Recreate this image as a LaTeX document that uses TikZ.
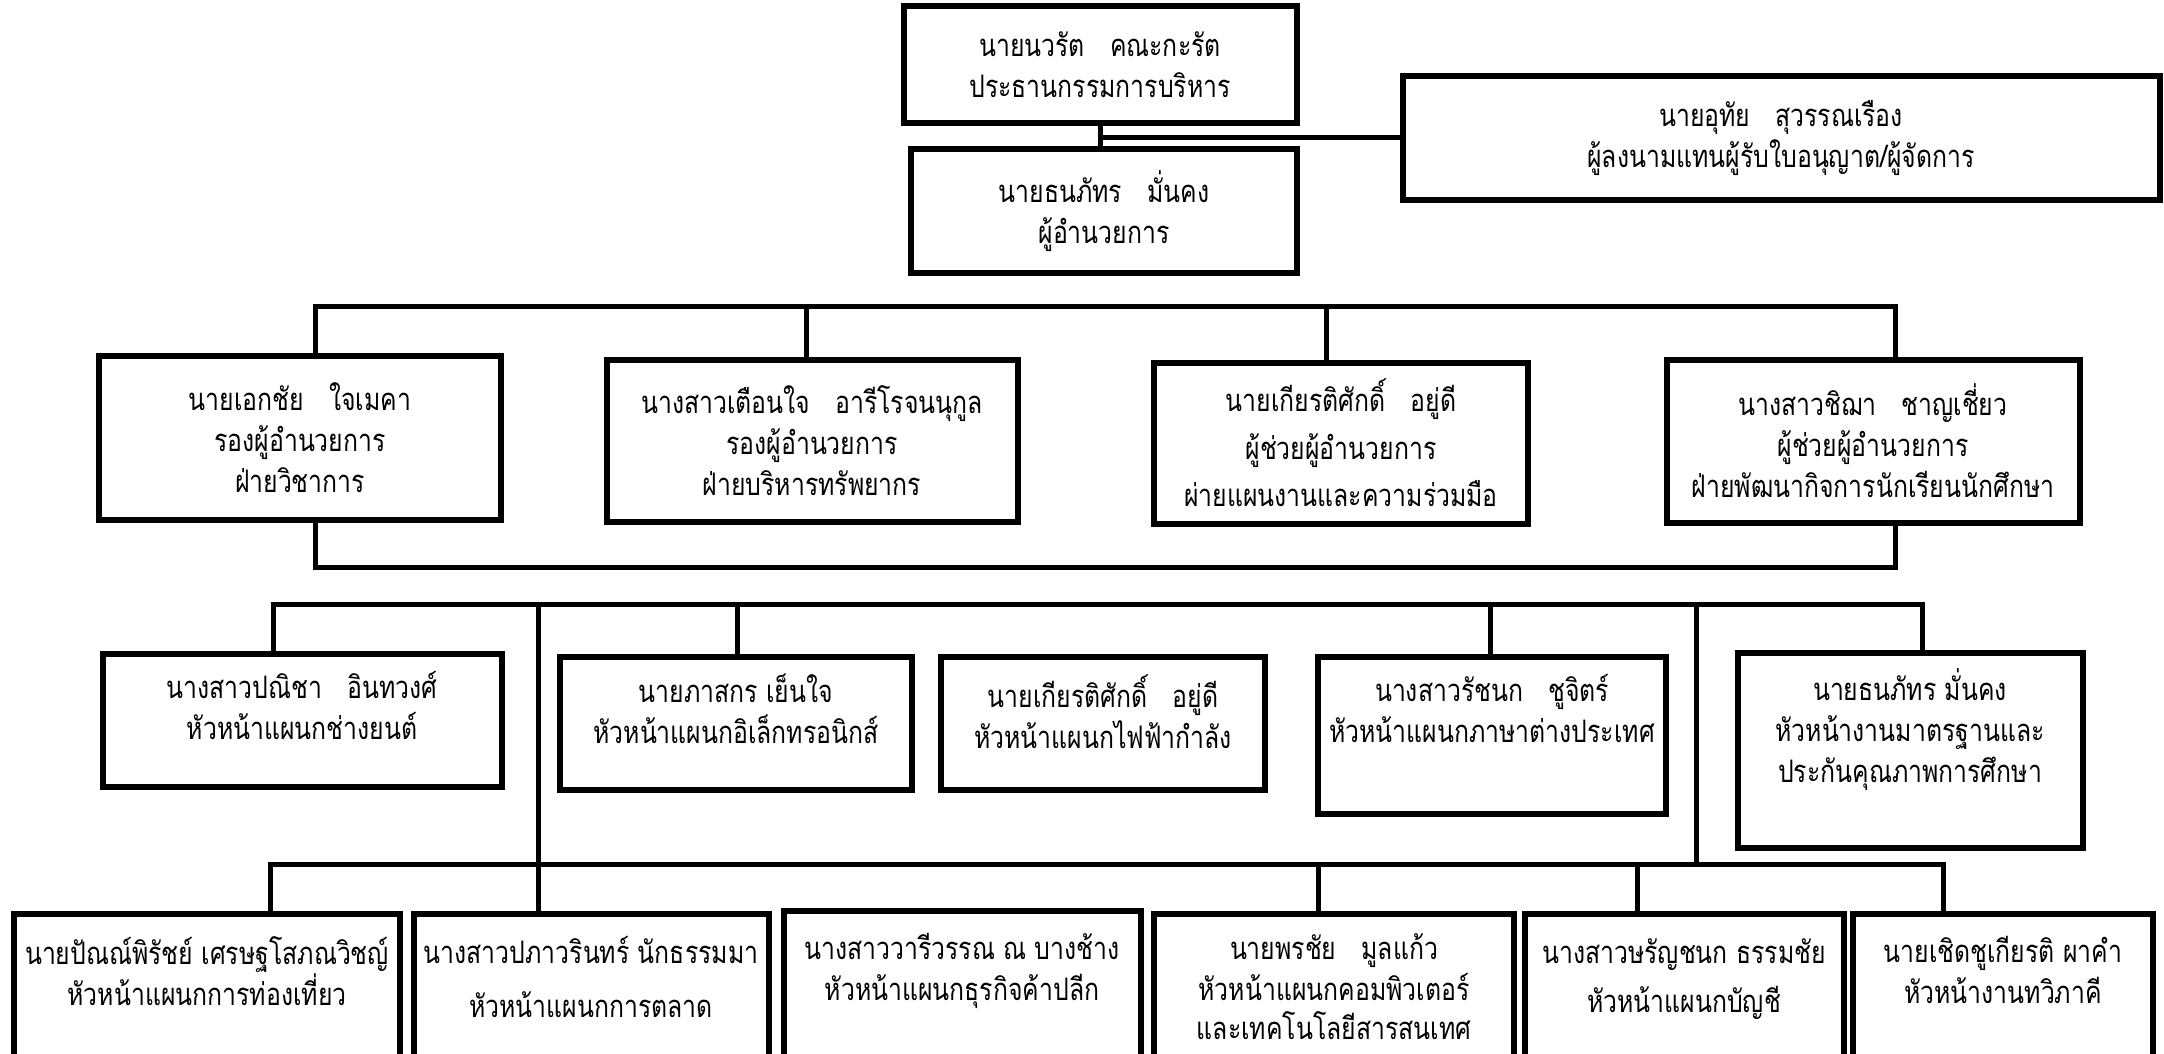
\documentclass[tikz,border=0pt]{standalone}
\usepackage{fontspec}
\setmainfont[Script=Thai,FakeStretch=0.8]{Loma}
\usetikzlibrary{positioning}

\begin{document}
\begin{tikzpicture}[x=1pt,y=-1pt,
    box/.style={draw,line width=6pt,inner sep=0pt,fill=white},
    txt/.style={align=center,inner sep=0pt,font=\fontsize{31}{41}\selectfont},
    link/.style={line width=5pt,line join=miter}]
   \useasboundingbox (0,0) rectangle (2164,1054);
   \clip (0,0) rectangle (2164,1054);

   % top of the chart
   \node[box,txt,minimum width=393,minimum height=117] (chair) at (1100,65)
      {นายนวรัต\ \ \ คณะกะรัต\\ประธานกรรมการบริหาร};
   \node[box,txt,minimum width=386,minimum height=124] (director) at (1104,211)
      {นายธนภัทร\ \ \ มั่นคง\\ผู้อำนวยการ};
   \node[box,txt,minimum width=757,minimum height=124] (manager) at (1781,138)
      {นายอุทัย\ \ \ สุวรรณเรือง\\ผู้ลงนามแทนผู้รับใบอนุญาต/ผู้จัดการ};

   \draw[link] (chair.south) -- (chair.south |- director.north);
   \draw[link] (chair.south |- manager.west) -- (manager.west);

   % deputies and assistants
   \node[box,txt,minimum width=402,minimum height=164] (acad) at (300,438)
      {นายเอกชัย\ \ \ ใจเมคา\\รองผู้อำนวยการ\\ฝ่ายวิชาการ};
   \node[box,txt,minimum width=411,minimum height=162] (res) at (812,441)
      {นางสาวเตือนใจ\ \ \ อารีโรจนนุกูล\\รองผู้อำนวยการ\\ฝ่ายบริหารทรัพยากร};
   \node[box,txt,minimum width=374,minimum height=161] (plan) at (1341,443)
      {นายเกียรติศักดิ์\ \ \ อยู่ดี\\[7pt]ผู้ช่วยผู้อำนวยการ\\[6pt]ผ่ายแผนงานและความร่วมมือ};
   \node[box,txt,minimum width=413,minimum height=163] (stud) at (1873,441)
      {นางสาวชิฌา\ \ \ ชาญเชี่ยว\\ผู้ช่วยผู้อำนวยการ\\ฝ่ายพัฒนากิจการนักเรียนนักศึกษา};

   \coordinate (m1) at (315,306);
   \coordinate (m2) at (806,306);
   \coordinate (m3) at (1326,306);
   \coordinate (m4) at (1895,306);
   \coordinate (bus2b) at (0,567);
   \draw[link] (acad.north -| m1) |- (m4) -- (stud.north -| m4);
   \draw[link] (m2) -- (res.north -| m2);
   \draw[link] (m3) -- (plan.north -| m3);
   \draw[link] (acad.south -| m1) |- (bus2b -| m4) -- (stud.south -| m4);

   % heads, first row
   \node[box,anchor=north,minimum width=399,minimum height=133] (e1) at (302,651) {};
   \node[box,anchor=north,minimum width=352,minimum height=133] (e2) at (736,654) {};
   \node[box,anchor=north,minimum width=324,minimum height=133] (e3) at (1103,654) {};
   \node[box,anchor=north,minimum width=348,minimum height=157] (e4) at (1492,654) {};
   \node[box,anchor=north,minimum width=345,minimum height=195] (e5) at (1910,650) {};

   \node[txt,below=20pt of e1.north] (e1t) {นางสาวปณิชา\ \ \ อินทวงศ์\\หัวหน้าแผนกช่างยนต์};
   \node[txt,below=20pt of e2.north] (e2t) {นายภาสกร เย็นใจ\\หัวหน้าแผนกอิเล็กทรอนิกส์};
   \node[txt,below=20pt of e3.north] (e3t) {นายเกียรติศักดิ์\ \ \ อยู่ดี\\หัวหน้าแผนกไฟฟ้ากำลัง};
   \node[txt,below=20pt of e4.north] (e4t) {นางสาวรัชนก\ \ \ ชูจิตร์\\หัวหน้าแผนกภาษาต่างประเทศ};
   \node[txt,below=18pt of e5.north] (e5t) {นายธนภัทร มั่นคง\\หัวหน้างานมาตรฐานและ\\ประกันคุณภาพการศึกษา};

   \coordinate (k1) at (273,604);
   \coordinate (k2) at (737,604);
   \coordinate (k3) at (1490,604);
   \coordinate (k4) at (1922,604);
   \draw[link] (e1.north -| k1) |- (k4) -- (e5.north -| k4);
   \draw[link] (k2) -- (e2.north -| k2);
   \draw[link] (k3) -- (e4.north -| k3);

   % heads, second row
   \node[box,anchor=north,minimum width=386,minimum height=170] (f1) at (207,911) {};
   \node[box,anchor=north,minimum width=355,minimum height=170] (f2) at (591,911) {};
   \node[box,anchor=north,minimum width=357,minimum height=170] (f3) at (962,908) {};
   \node[box,anchor=north,minimum width=360,minimum height=170] (f4) at (1334,911) {};
   \node[box,anchor=north,minimum width=319,minimum height=170] (f5) at (1684,911) {};
   \node[box,anchor=north,minimum width=300,minimum height=170] (f6) at (2003,911) {};

   \node[txt,below=25pt of f1.north] (f1t) {นายปัณณ์พิรัชย์\ เศรษฐโสภณวิชญ์\\หัวหน้าแผนกการท่องเที่ยว};
   \node[txt,below=25pt of f2.north] (f2t) {นางสาวปภาวรินทร์\ นักธรรมมา\\[13pt]หัวหน้าแผนกการตลาด};
   \node[txt,below=25pt of f3.north] (f3t) {นางสาววารีวรรณ ณ บางช้าง\\หัวหน้าแผนกธุรกิจค้าปลีก};
   \node[txt,below=22pt of f4.north] (f4t) {นายพรชัย\ \ \ มูลแก้ว\\หัวหน้าแผนกคอมพิวเตอร์\\[-2pt]และเทคโนโลยีสารสนเทศ};
   \node[txt,below=28pt of f5.north] (f5t) {นางสาวษรัญชนก\ ธรรมชัย\\[8pt]หัวหน้าแผนกบัญชี};
   \node[txt,below=25pt of f6.north] (f6t) {นายเชิดชูเกียรติ ผาคำ\\หัวหน้างานทวิภาคี};

   \coordinate (j1) at (270,864);
   \coordinate (j2) at (538,864);
   \coordinate (j4) at (1318,864);
   \coordinate (j5) at (1637,864);
   \coordinate (j6) at (1943,864);
   \draw[link] (f1.north -| j1) |- (j6) -- (f6.north -| j6);
   \foreach \j/\n in {j4/f4,j5/f5}
      \draw[link] (\j) -- (\n.north -| \j);

   % long verticals between the rows
   \coordinate (sp1) at (538,604);
   \coordinate (sp2) at (1696,604);
   \draw[link] (sp1) -- (f2.north -| sp1);
   \draw[link] (sp2) -- (sp2 |- j1);
\end{tikzpicture}
\end{document}
